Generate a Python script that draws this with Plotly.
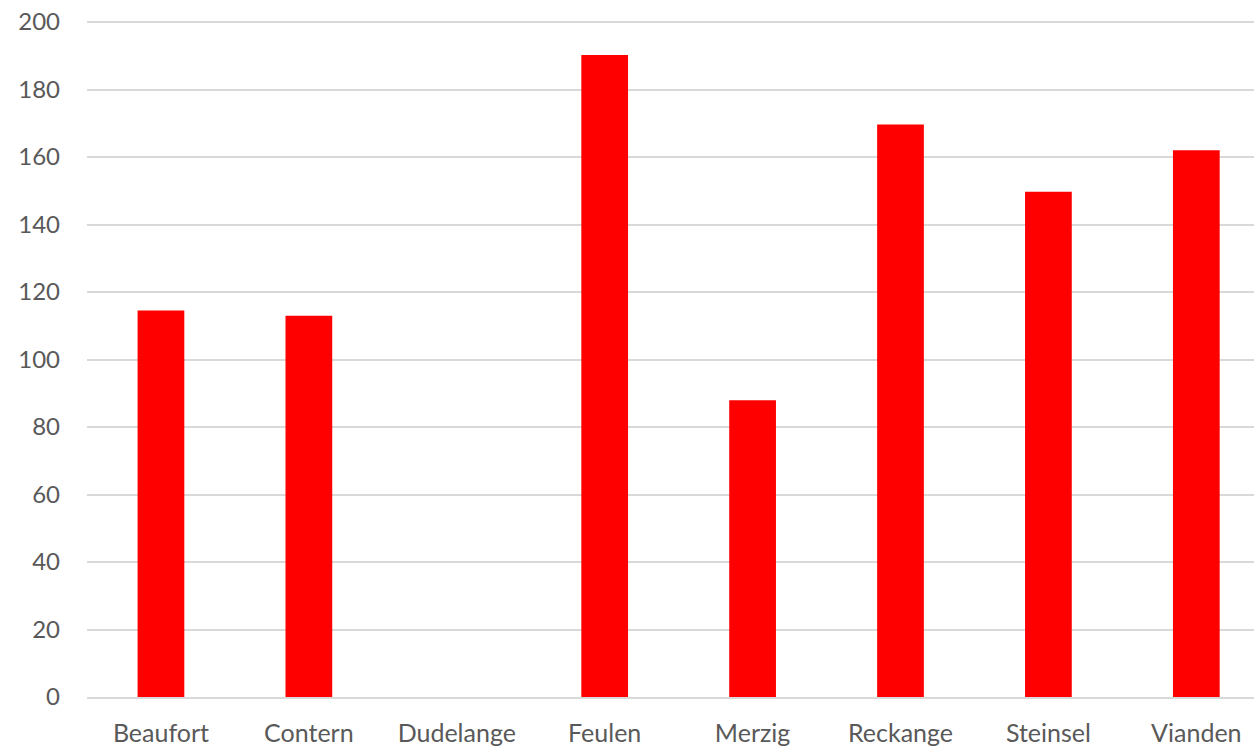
import plotly.graph_objects as go

categories = ["Beaufort", "Contern", "Dudelange", "Feulen", "Merzig", "Reckange", "Steinsel", "Vianden"]
values = [114.5, 113.0, None, 190.2, 87.9, 169.6, 149.7, 162.0]
y_ticks = [0, 20, 40, 60, 80, 100, 120, 140, 160, 180, 200]

fig = go.Figure(go.Bar(x=categories, y=values, marker_color="#ff0000", width=0.316,
                       marker_line_width=0))

font_family = "Lato, 'Open Sans', sans-serif"
fig.update_layout(
    width=1254, height=752,
    margin=dict(l=87, r=0, t=20, b=55),
    plot_bgcolor="white", paper_bgcolor="white",
    showlegend=False,
    font=dict(family=font_family, size=24, color="#595959"),
)
fig.update_xaxes(range=[-0.5, 7.39], showgrid=False, showline=True, linecolor="#d9d9d9",
                 linewidth=1.5, ticks="", ticklabelstandoff=13, tickfont=dict(size=25, color="#595959"))
fig.update_yaxes(range=[0, 200.6], tickvals=y_ticks, showgrid=True, gridcolor="#d9d9d9", gridwidth=1.5,
                 zeroline=False, showline=False, ticks="", ticklabelstandoff=26,
                 tickfont=dict(size=24, color="#595959"))

fig.write_html("out.html", config={"displayModeBar": False})

# remove the default page margin so the figure sits at the window origin
with open("out.html", "r", encoding="utf-8") as f:
    html = f.read()
html = html.replace("<body>", '<body style="margin:0;padding:0;">', 1)
with open("out.html", "w", encoding="utf-8") as f:
    f.write(html)
